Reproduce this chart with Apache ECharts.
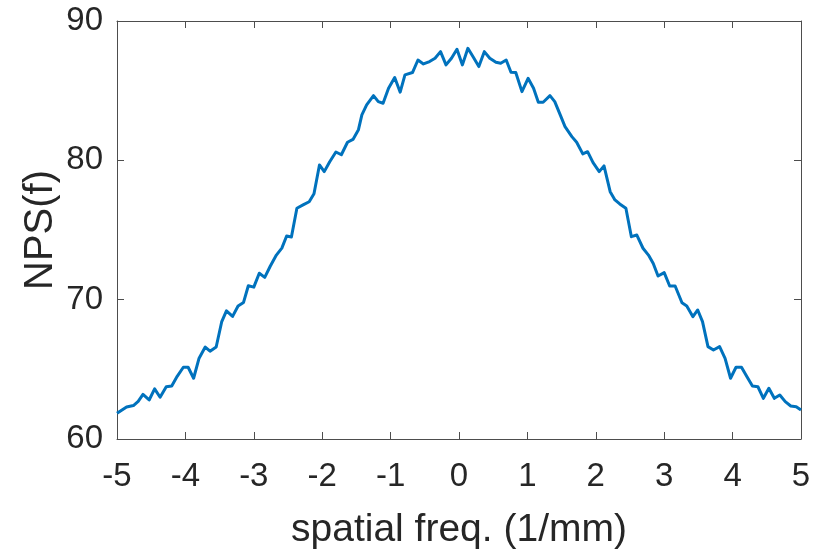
<!DOCTYPE html>
<html>
<head>
<meta charset="utf-8">
<script src="https://cdn.jsdelivr.net/npm/echarts@6/dist/echarts.min.js"></script>
<style>
  html, body { margin: 0; padding: 0; background: #fff; }
  #chart { width: 833px; height: 551px; }
</style>
</head>
<body>
<div id="chart"></div>
<script>
// Spatial frequency samples (1/mm)
const freq = [
  -5.00, -4.86, -4.76, -4.69, -4.62, -4.53, -4.45, -4.37, -4.28, -4.20,
  -4.12, -4.03, -3.96, -3.88, -3.80, -3.71, -3.64, -3.55, -3.47, -3.40,
  -3.31, -3.23, -3.15, -3.08, -3.00, -2.92, -2.84, -2.76, -2.67, -2.59,
  -2.52, -2.45, -2.37, -2.28, -2.19, -2.12, -2.04, -1.97, -1.89, -1.80,
  -1.72, -1.63, -1.55, -1.47, -1.42, -1.35, -1.25, -1.18, -1.11, -1.03,
  -0.94, -0.86, -0.79, -0.68, -0.60, -0.52, -0.43, -0.35, -0.27, -0.19,
  -0.11, -0.03, 0.05, 0.13, 0.21, 0.29, 0.37, 0.45, 0.54, 0.61,
  0.69, 0.76, 0.83, 0.92, 1.01, 1.09, 1.16, 1.23, 1.33, 1.40,
  1.48, 1.55, 1.65, 1.72, 1.81, 1.88, 1.96, 2.05, 2.12, 2.21,
  2.28, 2.35, 2.44, 2.52, 2.60, 2.69, 2.77, 2.84, 2.91, 3.00,
  3.08, 3.16, 3.26, 3.33, 3.42, 3.49, 3.56, 3.64, 3.72, 3.81,
  3.89, 3.97, 4.05, 4.13, 4.21, 4.29, 4.37, 4.45, 4.53, 4.61,
  4.69, 4.77, 4.85, 4.93, 5.00
];

// Noise power spectrum values
const nps = [
  61.84, 62.30, 62.40, 62.70, 63.20, 62.80, 63.60, 63.00, 63.75, 63.80,
  64.50, 65.15, 65.15, 64.36, 65.80, 66.60, 66.30, 66.60, 68.40, 69.20,
  68.80, 69.55, 69.80, 71.00, 70.90, 71.90, 71.60, 72.40, 73.20, 73.70,
  74.57, 74.50, 76.56, 76.80, 77.03, 77.60, 79.67, 79.19, 79.90, 80.60,
  80.40, 81.30, 81.50, 82.20, 83.26, 83.98, 84.64, 84.21, 84.10, 85.18,
  85.94, 84.89, 86.13, 86.30, 87.20, 86.92, 87.09, 87.33, 87.80, 86.85,
  87.33, 87.97, 86.85, 88.04, 87.40, 86.73, 87.80, 87.33, 87.04, 86.97,
  87.20, 86.32, 86.30, 84.93, 85.89, 85.18, 84.17, 84.17, 84.64, 84.21,
  83.26, 82.42, 81.70, 81.30, 80.46, 80.62, 79.83, 79.19, 79.60, 77.75,
  77.16, 76.87, 76.56, 74.52, 74.64, 73.69, 73.20, 72.60, 71.70, 71.94,
  70.98, 70.98, 69.78, 69.55, 68.78, 69.26, 68.42, 66.63, 66.39, 66.63,
  65.79, 64.36, 65.15, 65.15, 64.47, 63.80, 63.75, 62.92, 63.64, 62.92,
  63.16, 62.68, 62.37, 62.32, 62.08
];

const xTicks = [-5, -4, -3, -2, -1, 0, 1, 2, 3, 4, 5];
const yTicks = [60, 70, 80, 90];

const FONT = '"Liberation Sans", Arial, Helvetica, sans-serif';
const INK = '#262626';
const AXIS = '#4d4d4d';

const chart = echarts.init(document.getElementById('chart'), null, { renderer: 'canvas' });

// Box outline with inward ticks on all four sides
const boxLine = { show: true, onZero: false, lineStyle: { color: AXIS, width: 1 } };
const inTick = { show: true, inside: true, length: 7, lineStyle: { color: AXIS, width: 1 } };

chart.setOption({
  animation: false,
  backgroundColor: '#ffffff',
  grid: {
    left: 117, right: 32, top: 21, bottom: 112,
    containLabel: false, outerBoundsMode: 'none'
  },
  xAxis: [
    {
      type: 'value',
      min: xTicks[0], max: xTicks[xTicks.length - 1], interval: 1,
      axisLine: boxLine, axisTick: inTick, splitLine: { show: false },
      axisLabel: { color: INK, fontFamily: FONT, fontSize: 33, margin: 21 },
      name: 'spatial freq. (1/mm)', nameLocation: 'middle', nameGap: 72,
      nameMoveOverlap: false,
      nameTextStyle: { color: INK, fontFamily: FONT, fontSize: 39 }
    },
    {
      type: 'value', position: 'top',
      min: xTicks[0], max: xTicks[xTicks.length - 1], interval: 1,
      axisLine: boxLine, axisTick: inTick, axisLabel: { show: false }, splitLine: { show: false }
    }
  ],
  yAxis: [
    {
      type: 'value',
      min: yTicks[0], max: yTicks[yTicks.length - 1], interval: 10,
      axisLine: boxLine, axisTick: inTick, splitLine: { show: false },
      axisLabel: { color: INK, fontFamily: FONT, fontSize: 33, margin: 14 },
      name: 'NPS(f)', nameLocation: 'middle', nameGap: 56, nameRotate: 90,
      nameMoveOverlap: false,
      nameTextStyle: { color: INK, fontFamily: FONT, fontSize: 40 }
    },
    {
      type: 'value', position: 'right',
      min: yTicks[0], max: yTicks[yTicks.length - 1], interval: 10,
      axisLine: boxLine, axisTick: inTick, axisLabel: { show: false }, splitLine: { show: false }
    }
  ],
  series: [
    {
      type: 'line',
      data: freq.map((f, i) => [f, nps[i]]),
      showSymbol: false,
      lineStyle: { color: '#0072BD', width: 3, join: 'round' },
      itemStyle: { color: '#0072BD' }
    }
  ]
});
</script>
</body>
</html>
